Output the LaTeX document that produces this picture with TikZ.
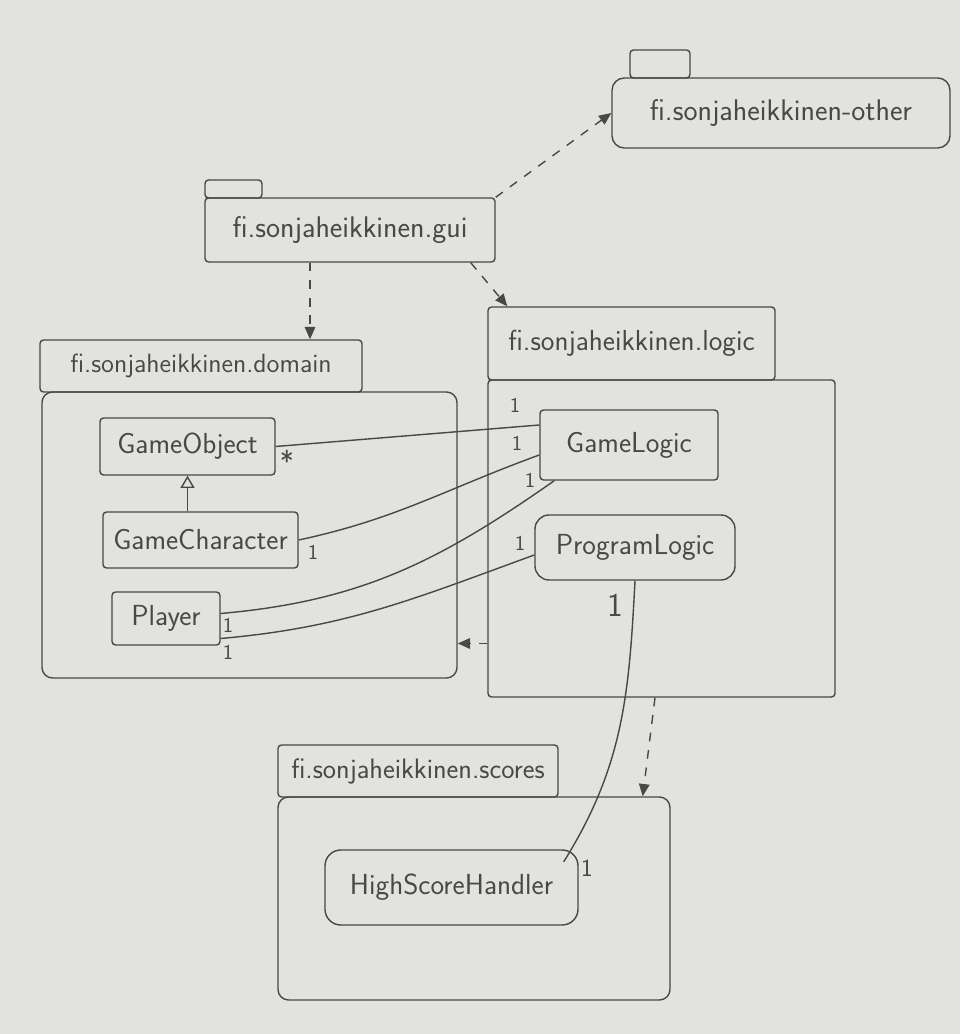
\documentclass[tikz,border=0pt]{standalone}
\usetikzlibrary{arrows.meta}
\definecolor{paper}{RGB}{226,226,222}
\definecolor{pencil}{RGB}{72,72,72}
\begin{document}
\begin{tikzpicture}[color=pencil, line width=.8pt,
		pkg/.style={draw, rounded corners=2pt, inner sep=0pt, font=\sffamily\fontsize{15}{18}\selectfont},
		cls/.style={draw, rounded corners=2pt, inner sep=0pt, font=\sffamily\fontsize{16.5}{19}\selectfont},
		mult/.style={inner sep=1pt, font=\sffamily\fontsize{12}{14}\selectfont},
		dep/.style={dash pattern=on 5pt off 5pt, -{Triangle[length=7pt,width=6pt]}}]
	\fill[paper] (0,0) rectangle (19.2,20.68);
	\useasboundingbox (0,0) rectangle (19.2,20.68);
	% packages
	\node[pkg, minimum width=1.2cm, minimum height=.56cm] (othertab) at (13.2,19.4) {};
	\node[pkg, rounded corners=7pt, minimum width=6.76cm, minimum height=1.4cm,
		font=\sffamily\fontsize{17}{20}\selectfont] (other) at (15.62,18.42)
		{fi.sonjaheikkinen-other};
	\node[pkg, minimum width=1.14cm, minimum height=.36cm] (guitab) at (4.67,16.9) {};
	\node[pkg, minimum width=5.8cm, minimum height=1.28cm,
		font=\sffamily\fontsize{17}{20}\selectfont] (gui) at (7,16.08)
		{fi.sonjaheikkinen.gui};
	\node[pkg, minimum width=6.44cm, minimum height=1.04cm] (domtab) at (4.02,13.36)
		{fi.sonjaheikkinen.domain};
	\node[pkg, rounded corners=6pt, minimum width=8.3cm, minimum height=5.72cm] (dom) at (4.99,9.98) {};
	\node[pkg, minimum width=5.74cm, minimum height=1.46cm,
		font=\sffamily\fontsize{16.5}{19}\selectfont] (logtab) at (12.63,13.81)
		{fi.sonjaheikkinen.logic};
	\node[pkg, minimum width=6.94cm, minimum height=6.34cm] (log) at (13.23,9.91) {};
	\node[pkg, minimum width=5.6cm, minimum height=1.04cm,
		font=\sffamily\fontsize{16}{19}\selectfont] (scotab) at (8.36,5.26)
		{fi.sonjaheikkinen.scores};
	\node[pkg, rounded corners=6pt, minimum width=7.84cm, minimum height=4.06cm] (sco) at (9.48,2.71) {};
	% classes
	\node[cls, minimum width=3.5cm, minimum height=1.14cm] (go) at (3.75,11.75) {GameObject};
	\node[cls, minimum width=3.9cm, minimum height=1.12cm] (gc) at (4.01,9.88) {GameCharacter};
	\node[cls, minimum width=2.16cm, minimum height=1.06cm] (pl) at (3.32,8.31) {Player};
	\node[cls, minimum width=3.56cm, minimum height=1.4cm] (gl) at (12.58,11.78) {GameLogic};
	\node[cls, rounded corners=8pt, minimum width=4cm, minimum height=1.3cm] (pgl) at (12.7,9.73)
		{ProgramLogic};
	\node[cls, rounded corners=9pt, minimum width=5.06cm, minimum height=1.5cm] (hs) at (9.03,2.93)
		{HighScoreHandler};
	% associations
	\draw (go.east) -- ([yshift=.4cm]gl.west);
	\draw (gc.east) to[out=12,in=200] ([yshift=-.2cm]gl.west);
	\draw ([yshift=.1cm]pl.east) to[out=5,in=215] ([xshift=.3cm]gl.south west);
	\draw ([yshift=-.4cm]pl.east) to[out=5,in=200] ([yshift=-.15cm]pgl.west);
	\draw (pgl.south) to[out=-93,in=58] ([xshift=-.3cm,yshift=-.25cm]hs.north east);
	\draw[-{Triangle[open,length=7pt,width=8pt]}] (go.south |- gc.north) -- (go.south);
	% multiplicities
	\node[mult, font=\sffamily\fontsize{17}{19}\selectfont] (m1) at (5.74,11.45) {*};
	\node[mult] (m2) at (10.3,12.58) {1};
	\node[mult] (m3) at (6.26,9.64) {1};
	\node[mult] (m4) at (10.34,11.82) {1};
	\node[mult] (m5) at (4.56,8.18) {1};
	\node[mult] (m6) at (10.6,11.08) {1};
	\node[mult] (m7) at (4.56,7.64) {1};
	\node[mult] (m8) at (10.4,9.82) {1};
	\node[mult, font=\sffamily\fontsize{19}{21}\selectfont] (m9) at (12.3,8.58) {1};
	\node[mult, font=\sffamily\fontsize{14}{16}\selectfont] (m10) at (11.74,3.32) {1};
	% dependencies
	\draw[dep] (gui.north east) -- (other.west);
	\draw[dep] ([xshift=-.8cm]gui.south) -- ([xshift=-.8cm]gui.south |- domtab.north);
	\draw[dep] ([xshift=-.5cm]gui.south east) -- ([xshift=.4cm]logtab.north west);
	\draw[dep] ([yshift=-2.1cm]log.west) -- ([yshift=-2.1cm]log.west -| dom.east);
	\draw[dep] ([xshift=-.13cm]log.south) -- ([xshift=-.56cm]sco.north east);
\end{tikzpicture}
\end{document}
